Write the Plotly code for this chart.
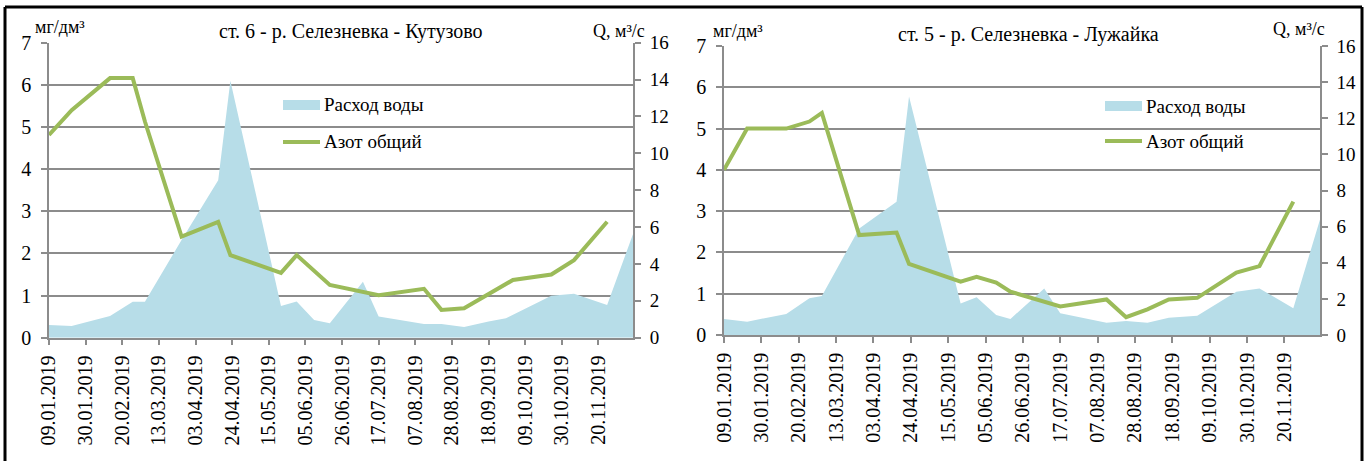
import plotly.graph_objects as go
from datetime import date, timedelta

W, H = 1371, 461

# --- ст. 6 - р. Селезневка - Кутузово ---
kut_q_dates = ["2019-01-09", "2019-01-22", "2019-02-13", "2019-02-26", "2019-03-05",
               "2019-03-26", "2019-04-16", "2019-04-23", "2019-05-22", "2019-05-31",
               "2019-06-10", "2019-06-19", "2019-07-08", "2019-07-17", "2019-08-12",
               "2019-08-22", "2019-09-04", "2019-09-18", "2019-09-28", "2019-10-24",
               "2019-11-06", "2019-11-25", "2019-12-10"]
kut_q = [0.69, 0.63, 1.18, 1.95, 1.95, 5.3, 8.54, 13.94, 1.72, 1.96, 0.96, 0.78,
         3.04, 1.15, 0.74, 0.74, 0.58, 0.88, 1.06, 2.27, 2.38, 1.78, 5.66]

kut_n_dates = ["2019-01-09", "2019-01-22", "2019-02-13", "2019-02-26", "2019-03-05",
               "2019-03-26", "2019-04-16", "2019-04-23", "2019-05-22", "2019-05-31",
               "2019-06-19", "2019-07-17", "2019-08-12", "2019-08-22", "2019-09-04",
               "2019-10-02", "2019-10-24", "2019-11-06", "2019-11-25"]
kut_n = [4.81, 5.40, 6.16, 6.16, 5.13, 2.40, 2.75, 1.96, 1.54, 1.96, 1.25, 1.01,
         1.16, 0.66, 0.70, 1.37, 1.50, 1.84, 2.75]

# --- ст. 5 - р. Селезневка - Лужайка ---
luz_q_dates = ["2019-01-09", "2019-01-22", "2019-02-13", "2019-02-26", "2019-03-05",
               "2019-03-26", "2019-04-16", "2019-04-23", "2019-05-22", "2019-05-31",
               "2019-06-11", "2019-06-19", "2019-07-08", "2019-07-17", "2019-08-12",
               "2019-08-23", "2019-09-04", "2019-09-16", "2019-10-02", "2019-10-24",
               "2019-11-06", "2019-11-25", "2019-12-10"]
luz_q = [0.89, 0.74, 1.16, 2.03, 2.16, 5.9, 7.38, 13.2, 1.75, 2.09, 1.11, 0.89,
         2.58, 1.2, 0.68, 0.78, 0.68, 0.96, 1.07, 2.4, 2.58, 1.48, 6.4]

luz_n_dates = ["2019-01-09", "2019-01-22", "2019-02-13", "2019-02-26", "2019-03-05",
               "2019-03-26", "2019-04-16", "2019-04-23", "2019-05-22", "2019-05-31",
               "2019-06-11", "2019-06-19", "2019-07-17", "2019-08-12", "2019-08-23",
               "2019-09-04", "2019-09-16", "2019-10-02", "2019-10-24", "2019-11-06",
               "2019-11-25"]
luz_n = [4.00, 5.00, 5.00, 5.17, 5.38, 2.42, 2.48, 1.72, 1.29, 1.41, 1.27, 1.05,
         0.69, 0.86, 0.43, 0.62, 0.86, 0.90, 1.51, 1.67, 3.23]

# tick labels every three weeks
tick_dates = [date(2019, 1, 9) + timedelta(days=21 * i) for i in range(16)]
tick_vals = [d.isoformat() for d in tick_dates]
tick_text = [d.strftime("%d.%m.%Y") for d in tick_dates]
x_range = ["2019-01-09", "2019-12-10"]

titles = ["ст. 6 - р. Селезневка - Кутузово", "ст. 5 - р. Селезневка - Лужайка"]
unit_n, unit_q = "мг/дм³", "Q, м³/с"
q_name, n_name = "Расход воды", "Азот общий"

AREA = "#B7DDE8"
LINE = "#9BBB59"
GRID = "#8C8C8C"
FONT = "'Liberation Serif', 'Times New Roman', Times, serif"


def px(x):
    return x / W


def py(y):
    return (H - y) / H


fig = go.Figure()

panels = [
    dict(qd=kut_q_dates, q=kut_q, nd=kut_n_dates, n=kut_n,
         xa="x", ya="y", ya2="y2", xdom=(49, 633.3), ydom=(337.7, 42.7)),
    dict(qd=luz_q_dates, q=luz_q, nd=luz_n_dates, n=luz_n,
         xa="x2", ya="y3", ya2="y4", xdom=(724, 1320), ydom=(335, 46)),
]

axis_common = dict(showline=True, linecolor=GRID, linewidth=1.5,
                   ticks="outside", ticklen=6, tickcolor=GRID, tickwidth=1.5,
                   zeroline=False, automargin=False)
tick_font = dict(family=FONT, size=19, color="#000")

for i, p in enumerate(panels):
    fig.add_trace(go.Scatter(x=p["qd"], y=p["q"], mode="none", fill="tozeroy",
                             fillcolor=AREA, name=q_name, showlegend=False,
                             xaxis=p["xa"], yaxis=p["ya"]))
    fig.add_trace(go.Scatter(x=p["nd"], y=p["n"], mode="lines",
                             line=dict(color=LINE, width=4), name=n_name,
                             showlegend=False, xaxis=p["xa"], yaxis=p["ya2"]))

    xkey = "xaxis" if i == 0 else "xaxis2"
    ykey = "yaxis" if i == 0 else "yaxis3"
    y2key = "yaxis2" if i == 0 else "yaxis4"
    fig.layout[xkey] = dict(
        axis_common, domain=[px(p["xdom"][0]), px(p["xdom"][1])],
        anchor=p["ya"], type="date", range=x_range,
        tickvals=tick_vals, ticktext=tick_text, tickangle=-90, showgrid=False,
        ticklabelstandoff=2,
        tickfont=dict(family=FONT, size=20, color="#000"))
    fig.layout[ykey] = dict(
        axis_common, domain=[py(p["ydom"][0]), py(p["ydom"][1])],
        anchor=p["xa"], side="right", range=[0, 16], dtick=2, showgrid=False,
        ticklabelstandoff=5, tickfont=tick_font)
    fig.layout[y2key] = dict(
        axis_common, overlaying=p["ya"], anchor=p["xa"], side="left",
        range=[0, 7], dtick=1, showgrid=True, gridcolor=GRID, gridwidth=1.5,
        ticklabelstandoff=6, tickfont=dict(family=FONT, size=20, color="#000"))

annotations = []
shapes = []


def label(text, x, y, size=18, anchor="left"):
    annotations.append(dict(text=text, x=px(x), y=py(y), xref="paper", yref="paper",
                            xanchor=anchor, yanchor="middle", showarrow=False,
                            font=dict(family=FONT, size=size, color="#000")))


# panel titles and units
label(titles[0], 350.5, 31, size=20, anchor="center")
label(titles[1], 1028.5, 35, size=20, anchor="center")
label(unit_n, 33, 27, size=18)
label(unit_n, 711, 31, size=18)
label(unit_q, 591, 31, size=18)
label(unit_q, 1271, 29, size=18)

# legends
for (lx, ly_area, ly_line) in [(283, 105, 142), (1105, 106, 141)]:
    shapes.append(dict(type="rect", xref="paper", yref="paper",
                       x0=px(lx), x1=px(lx + 37), y0=py(ly_area + 5), y1=py(ly_area - 5),
                       fillcolor=AREA, line=dict(width=0)))
    shapes.append(dict(type="line", xref="paper", yref="paper",
                       x0=px(lx), x1=px(lx + 37), y0=py(ly_line), y1=py(ly_line),
                       line=dict(color=LINE, width=4)))
    label(q_name, lx + 39, ly_area, size=19)
    label(n_name, lx + 39, ly_line, size=19)

# outer frame
for (x0, y0, x1, y1) in [(5, 7, 1362, 7), (5, 7, 5, 461), (1362, 7, 1362, 461)]:
    shapes.append(dict(type="line", xref="paper", yref="paper",
                       x0=px(x0), y0=py(y0), x1=px(x1), y1=py(y1),
                       line=dict(color="#000", width=3)))

fig.update_layout(
    width=W, height=H, margin=dict(l=0, r=0, t=0, b=0, autoexpand=False),
    paper_bgcolor="white", plot_bgcolor="white",
    showlegend=False, annotations=annotations, shapes=shapes,
    font=dict(family=FONT, color="#000"),
)

fig.write_html("out.html")
